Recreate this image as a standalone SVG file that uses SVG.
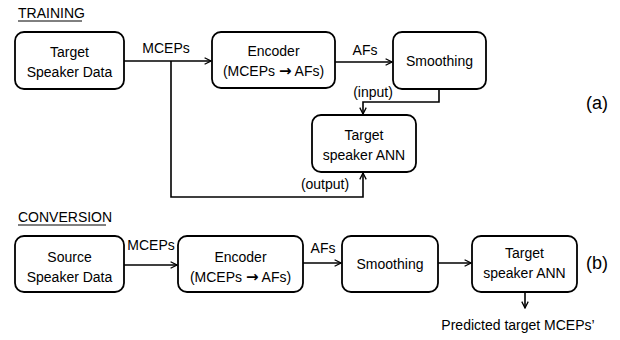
<svg xmlns="http://www.w3.org/2000/svg" width="620" height="340" viewBox="0 0 620 340">
<defs>
<marker id="ah" viewBox="0 0 10 10" refX="9" refY="5" markerWidth="8" markerHeight="8" markerUnits="userSpaceOnUse" orient="auto">
<path d="M1,1 L9,5 L1,9" fill="none" stroke="#000" stroke-width="1.6"/>
</marker>
<style>
.box{fill:#fff;stroke:#000;stroke-width:1.8}
text{font-family:"Liberation Sans",Arial,sans-serif;font-size:14px;fill:#000}
.c{text-anchor:middle}
.big{font-size:18px}
.ar{font-family:"DejaVu Sans",sans-serif;font-weight:bold;font-size:15px}
.conn{fill:none;stroke:#000;stroke-width:1.6}
</style>
</defs>
<rect width="620" height="340" fill="#fff"/>
<text x="18" y="18">TRAINING</text>
<line x1="18" y1="21" x2="82" y2="21" stroke="#000" stroke-width="1"/>
<text x="18" y="222">CONVERSION</text>
<line x1="18" y1="225" x2="106" y2="225" stroke="#000" stroke-width="1"/>

<g id="connectors">
<path class="conn" d="M124,61 H211" marker-end="url(#ah)"/>
<path class="conn" d="M171,61 V197 H363 V173" marker-end="url(#ah)"/>
<path class="conn" d="M335,62 H392" marker-end="url(#ah)"/>
<path class="conn" d="M439,89 V102 H363 V114" marker-end="url(#ah)"/>
<path class="conn" d="M124,265 H177" marker-end="url(#ah)"/>
<path class="conn" d="M303,263 H341" marker-end="url(#ah)"/>
<path class="conn" d="M438,263 H471" marker-end="url(#ah)"/>
<path class="conn" d="M525,292 V308" marker-end="url(#ah)"/>
<text class="c" x="166" y="53">MCEPs</text>
<text class="c" x="365" y="55">AFs</text>
<text class="c" x="373" y="97">(input)</text>
<text class="c" x="325" y="189">(output)</text>
<text class="c" x="151" y="250">MCEPs</text>
<text class="c" x="323" y="253">AFs</text>
<text class="c" x="518" y="330">Predicted target MCEPs’</text>
</g>

<g id="t-data">
<rect class="box" x="15" y="32" width="109" height="57" rx="9"/>
<text class="c" x="69.5" y="57">Target</text>
<text class="c" x="69.5" y="77">Speaker Data</text>
</g>
<g id="t-encoder">
<rect class="box" x="212" y="32" width="123" height="56" rx="9"/>
<text class="c" x="273.5" y="56">Encoder</text>
<text class="c" x="273.5" y="76">(MCEPs <tspan class="ar">→</tspan> AFs)</text>
</g>
<g id="t-smoothing">
<rect class="box" x="393" y="32" width="93" height="57" rx="9"/>
<text class="c" x="439.5" y="66">Smoothing</text>
</g>
<g id="t-ann">
<rect class="box" x="312" y="115" width="104" height="57" rx="9"/>
<text class="c" x="364" y="140">Target</text>
<text class="c" x="364" y="160">speaker ANN</text>
</g>
<text class="c big" x="597" y="109">(a)</text>

<g id="c-data">
<rect class="box" x="15" y="236" width="109" height="56" rx="9"/>
<text class="c" x="69.5" y="262">Source</text>
<text class="c" x="69.5" y="282">Speaker Data</text>
</g>
<g id="c-encoder">
<rect class="box" x="178" y="236" width="125" height="56" rx="9"/>
<text class="c" x="240.5" y="262">Encoder</text>
<text class="c" x="240.5" y="282">(MCEPs <tspan class="ar">→</tspan> AFs)</text>
</g>
<g id="c-smoothing">
<rect class="box" x="342" y="236" width="96" height="56" rx="9"/>
<text class="c" x="390" y="269">Smoothing</text>
</g>
<g id="c-ann">
<rect class="box" x="472" y="236" width="105" height="56" rx="9"/>
<text class="c" x="524.5" y="258">Target</text>
<text class="c" x="524.5" y="278">speaker ANN</text>
</g>
<text class="c big" x="597" y="269">(b)</text>
</svg>
